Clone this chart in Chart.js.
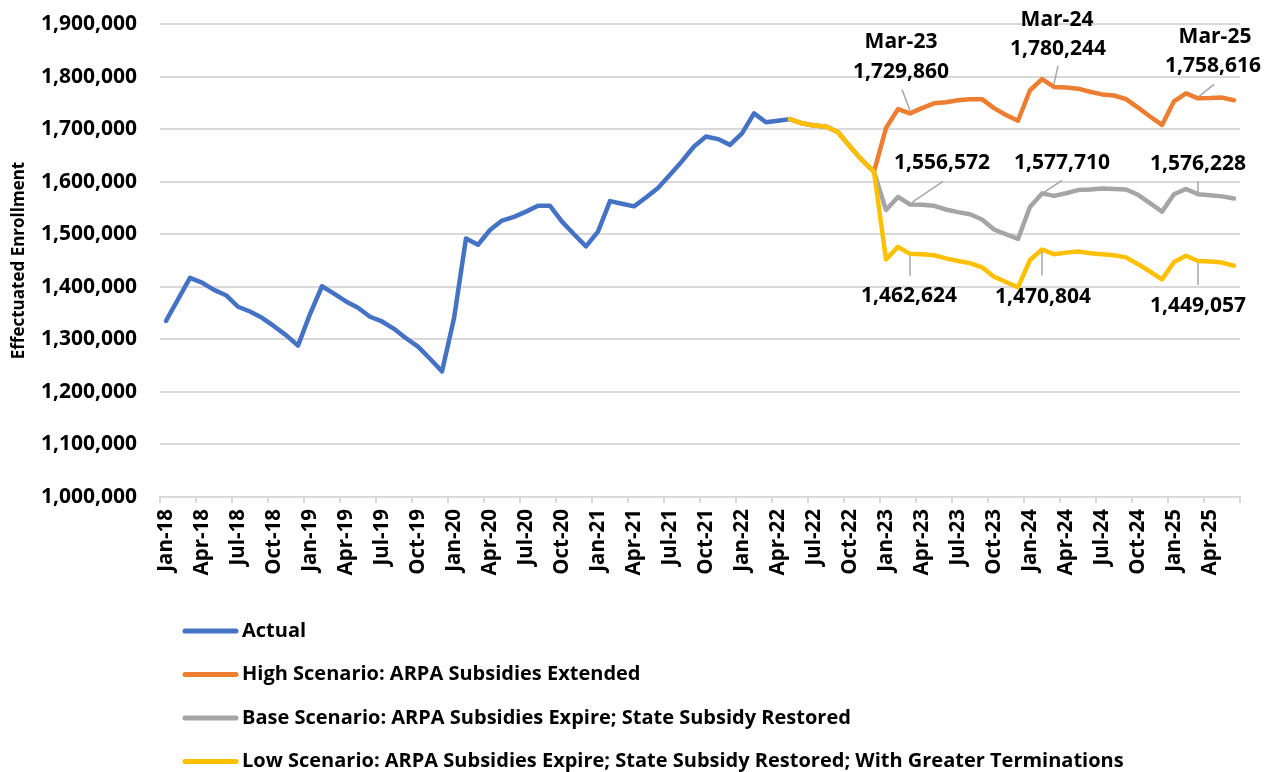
<!DOCTYPE html>
<html>
<head>
<meta charset="utf-8">
<script src="https://cdn.jsdelivr.net/npm/chart.js@4.4.1/dist/chart.umd.min.js"></script>
<style>
  html, body { margin: 0; padding: 0; background: #fff; }
  #wrap { width: 1266px; height: 772px; position: relative; }
</style>
</head>
<body>
<div id="wrap"><canvas id="enrollChart" width="1266" height="772"></canvas></div>
<script>
// Categorias: meses de Jan-18 a Jun-25
const monthNames = ['Jan', 'Feb', 'Mar', 'Apr', 'May', 'Jun', 'Jul', 'Aug', 'Sep', 'Oct', 'Nov', 'Dec'];
const categories = [];
for (let y = 18; y <= 25; y++) {
    for (let m = 0; m < 12; m++) {
        if (y === 25 && m > 5) break;
        categories.push(monthNames[m] + '-' + y);
    }
}

// Valores
const actualValues = [
    1335000, 1376000, 1417000, 1408000, 1394000, 1384000, 1362000, 1353000, 1341000, 1325000, 1308000, 1288000,
    1348000, 1401000, 1387000, 1372000, 1360000, 1343000, 1334000, 1320000, 1302000, 1286000, 1263000, 1239000,
    1340000, 1492000, 1480000, 1508000, 1526000, 1533000, 1543000, 1554000, 1554000, 1524000, 1500000, 1477000,
    1505000, 1563000, 1558000, 1553000, 1570000, 1588000, 1613000, 1639000, 1667000, 1686000, 1681000, 1670000,
    1692000, 1730000, 1713000, 1716000, 1719000
];

// Trecho comum às projeções (May-22 .. Dec-22)
const sharedForecast = [1719000, 1711000, 1707000, 1705000, 1694000, 1667000, 1641000, 1619000];

const highValues = [
    1702000, 1738000, 1729860, 1740000, 1749000, 1751000, 1755000, 1757000, 1757000, 1740000, 1727000, 1716000,
    1774000, 1795000, 1780244, 1779000, 1777000, 1771000, 1766000, 1764000, 1757000, 1741000, 1724000, 1708000,
    1753000, 1768000, 1758616, 1759000, 1760000, 1755000
];
const baseValues = [
    1546000, 1571000, 1556572, 1556000, 1554000, 1547000, 1542000, 1538000, 1528000, 1509000, 1500000, 1491000,
    1552000, 1577710, 1573000, 1578000, 1584000, 1585000, 1587000, 1586000, 1585000, 1575000, 1559000, 1543000,
    1576000, 1586000, 1576228, 1574000, 1572000, 1568000
];
const lowValues = [
    1452000, 1476000, 1462624, 1462000, 1460000, 1454000, 1449000, 1445000, 1437000, 1419000, 1409000, 1399000,
    1451000, 1470804, 1462000, 1465000, 1467000, 1464000, 1462000, 1460000, 1456000, 1443000, 1429000, 1414000,
    1447000, 1459000, 1449057, 1448000, 1446000, 1440000
];

const yTicks = { min: 1000000, max: 1900000, step: 100000 };

const seriesLabels = [
    'Actual',
    'High Scenario: ARPA Subsidies Extended',
    'Base Scenario: ARPA Subsidies Expire; State Subsidy Restored',
    'Low Scenario: ARPA Subsidies Expire; State Subsidy Restored; With Greater Terminations'
];
const seriesColors = ['#4472C4', '#ED7D31', '#A5A5A5', '#FFC000'];

// Monta séries completas com nulls fora do período
function padSeries(startIndex, values) {
    const out = new Array(categories.length).fill(null);
    values.forEach((v, i) => { out[startIndex + i] = v; });
    return out;
}
const forecastStart = actualValues.length - 1;
const actualData = padSeries(0, actualValues);
const highData = padSeries(forecastStart, sharedForecast.concat(highValues));
const baseData = padSeries(forecastStart, sharedForecast.concat(baseValues));
const lowData = padSeries(forecastStart, sharedForecast.concat(lowValues));

// Rótulos destacados (índice do mês + deslocamentos em px a partir do ponto)
const callouts = [
    { ds: 1, index: 62, title: 'Mar-23', tdx: -9, tdy: -71, vdx: -9, vdy: -41, lx: -8, ly: -24, ex: 0, ey: -3 },
    { ds: 1, index: 74, title: 'Mar-24', tdx: 3, tdy: -67, vdx: 4, vdy: -38, lx: 4, ly: -21, ex: 0, ey: -3 },
    { ds: 1, index: 86, title: 'Mar-25', tdx: 17, tdy: -61, vdx: 15, vdy: -32, lx: 16, ly: -14, ex: 1, ey: -2 },
    { ds: 2, index: 62, vdx: 32, vdy: -41, lx: 33, ly: -23, ex: 2, ey: -2 },
    { ds: 2, index: 73, vdx: 20, vdy: -30, lx: 20, ly: -13, ex: 2, ey: -1 },
    { ds: 2, index: 86, vdx: 0, vdy: -30, lx: 0, ly: -13, ex: 0, ey: -2 },
    { ds: 3, index: 62, vdx: -1, vdy: 42, lx: 0, ly: 22, ex: 0, ey: 2 },
    { ds: 3, index: 73, vdx: 1, vdy: 47, lx: 0, ly: 26, ex: 0, ey: 2 },
    { ds: 3, index: 86, vdx: 0, vdy: 45, lx: 0, ly: 24, ex: 0, ey: 2 }
];

const boldFont = '"Open Sans", "Liberation Sans", sans-serif';

const calloutPlugin = {
    id: 'callouts',
    afterDatasetsDraw(chart) {
        const ctx = chart.ctx;
        ctx.save();
        ctx.font = 'bold 21px ' + boldFont;
        ctx.textAlign = 'center';
        ctx.textBaseline = 'middle';
        callouts.forEach(c => {
            const pt = chart.getDatasetMeta(c.ds).data[c.index];
            const value = chart.data.datasets[c.ds].data[c.index];
            // linha guia
            ctx.strokeStyle = '#A6A6A6';
            ctx.lineWidth = 1.5;
            ctx.beginPath();
            ctx.moveTo(pt.x + c.lx, pt.y + c.ly);
            ctx.lineTo(pt.x + c.ex, pt.y + c.ey);
            ctx.stroke();
            ctx.fillStyle = '#000';
            if (c.title) ctx.fillText(c.title, pt.x + c.tdx, pt.y + c.tdy);
            ctx.fillText(value.toLocaleString('en-US'), pt.x + c.vdx, pt.y + c.vdy);
        });
        ctx.restore();
    }
};

// Legenda vertical alinhada à esquerda
const legendPlugin = {
    id: 'sideLegend',
    afterDraw(chart) {
        const ctx = chart.ctx;
        ctx.save();
        ctx.font = 'bold 20px ' + boldFont;
        ctx.textBaseline = 'middle';
        ctx.textAlign = 'left';
        chart.data.datasets.forEach((ds, i) => {
            const y = 631 + i * 43.5;
            ctx.strokeStyle = ds.borderColor;
            ctx.lineWidth = 5;
            ctx.lineCap = 'round';
            ctx.beginPath();
            ctx.moveTo(185, y);
            ctx.lineTo(236, y);
            ctx.stroke();
            ctx.fillStyle = '#000';
            ctx.fillText(ds.label, 242, y);
        });
        ctx.restore();
    }
};

function makeDataset(i, data, order) {
    return {
        label: seriesLabels[i],
        data: data,
        borderColor: seriesColors[i],
        backgroundColor: seriesColors[i],
        borderWidth: 4.5,
        pointRadius: 0,
        tension: 0,
        borderJoinStyle: 'round',
        borderCapStyle: 'round',
        spanGaps: false,
        order: order
    };
}

const ctx = document.getElementById('enrollChart').getContext('2d');
new Chart(ctx, {
    type: 'line',
    data: {
        labels: categories,
        datasets: [
            makeDataset(0, actualData, 3),
            makeDataset(1, highData, 2),
            makeDataset(2, baseData, 1),
            makeDataset(3, lowData, 0)
        ]
    },
    options: {
        responsive: false,
        animation: false,
        layout: { padding: { top: 24, right: 26, bottom: 175, left: 0 } },
        plugins: {
            legend: { display: false },
            tooltip: { enabled: false }
        },
        scales: {
            x: {
                offset: true,
                afterFit(scale) { scale.height = 100; },
                grid: {
                    offset: true,
                    drawOnChartArea: false,
                    drawTicks: true,
                    tickLength: 6,
                    lineWidth: 2,
                    color: (c) => (c.index === undefined || c.index % 3 === 0) ? '#D9D9D9' : 'rgba(0,0,0,0)'
                },
                border: { display: true, color: '#D9D9D9', width: 2 },
                ticks: {
                    autoSkip: false,
                    maxRotation: 90,
                    minRotation: 90,
                    padding: 6,
                    color: '#000',
                    font: { family: boldFont, size: 20.5, weight: 'bold' },
                    callback: function (val, i) { return i % 3 === 0 ? categories[i] : ''; }
                }
            },
            y: {
                min: yTicks.min,
                max: yTicks.max,
                afterFit(scale) {
                    scale.width = 160;
                    scale.paddingTop = 0;
                    scale.paddingBottom = 0;
                },
                grid: { color: '#D9D9D9', lineWidth: 2, drawTicks: false },
                border: { display: false },
                ticks: {
                    stepSize: yTicks.step,
                    padding: 23,
                    color: '#000',
                    font: { family: boldFont, size: 21, weight: 'bold' },
                    callback: function (value) { return value.toLocaleString('en-US'); }
                },
                title: {
                    display: true,
                    text: 'Effectuated Enrollment',
                    color: '#000',
                    padding: { top: 9, bottom: 0 },
                    font: { family: boldFont, size: 17, weight: 'bold' }
                }
            }
        }
    },
    plugins: [calloutPlugin, legendPlugin]
});
</script>
</body>
</html>
